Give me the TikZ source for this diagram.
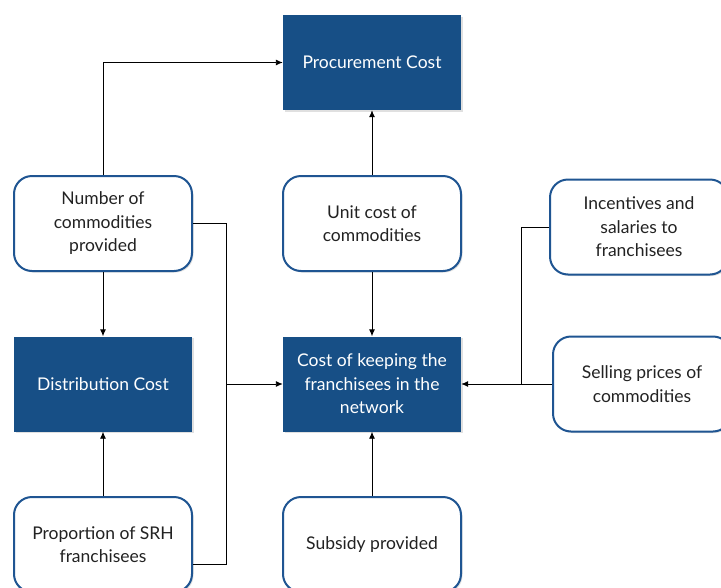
\documentclass[tikz,border=0pt]{standalone}
\usepackage{fontspec}
\setmainfont{Lato}
\usetikzlibrary{arrows.meta,shadows}
\definecolor{navy}{HTML}{174F86}
\definecolor{rim}{HTML}{1F5592}
\definecolor{ink}{HTML}{222222}
\tikzset{
  x=1pt, y=-1pt,
  box/.style={minimum width=178pt, minimum height=95pt, align=center,
    font=\fontsize{17.5}{23.5}\selectfont, inner sep=4pt,
    drop shadow={shadow xshift=1.5pt, shadow yshift=-1.5pt, opacity=0.3, fill=black!40}},
  costbox/.style={box, fill=navy, text=white},
  factor/.style={box, draw=rim, line width=2pt, fill=white, rounded corners=18pt, text=ink},
  link/.style={draw=black, line width=0.9pt},
  arr/.style={link, -{Latex[length=7pt,width=6pt]}}
}
\begin{document}
\begin{tikzpicture}
\useasboundingbox (0,0) rectangle (721,587);
\clip (0,0) rectangle (721,587);
\fill[white] (0,0) rectangle (721,587);

% cost nodes
\node[costbox] (proc) at (372,62.5) {Procurement Cost};
\node[costbox] (dist) at (103,384) {Distribution Cost};
\node[costbox] (keep) at (372,384) {Cost of keeping the\\franchisees in the\\network};

% factor nodes
\node[factor] (num) at (103,223.5) {Number of\\commodities\\provided};
\node[factor] (unit) at (372,223.5) {Unit cost of\\commodities};
\node[factor] (inc) at (639,227) {Incentives and\\salaries to\\franchisees};
\node[factor] (sell) at (642,384) {Selling prices of\\commodities};
\node[factor] (prop) at (103,544.5) {Proportion of SRH\\franchisees};
\node[factor] (sub) at (372,544.5) {Subsidy provided};

% junction points
\coordinate (jl) at (226,384);
\coordinate (jr) at (521,384);

% connectors
\draw[arr] (num.north) |- (proc.west);
\draw[arr] (num.south) -- (dist.north);
\draw[arr] (prop.north) -- (dist.south);
\draw[arr] (unit.north) -- (proc.south);
\draw[arr] (unit.south) -- (keep.north);
\draw[arr] (sub.north) -- (keep.south);
\draw[link] (num.east) -| (jl);
\draw[link] ([yshift=-19.5pt]prop.east) -| (jl);
\draw[arr] (jl) -- (keep.west);
\draw[link] (inc.west) -| (jr);
\draw[link] (sell.west) -- (jr);
\draw[arr] (jr) -- (keep.east);
\end{tikzpicture}
\end{document}
